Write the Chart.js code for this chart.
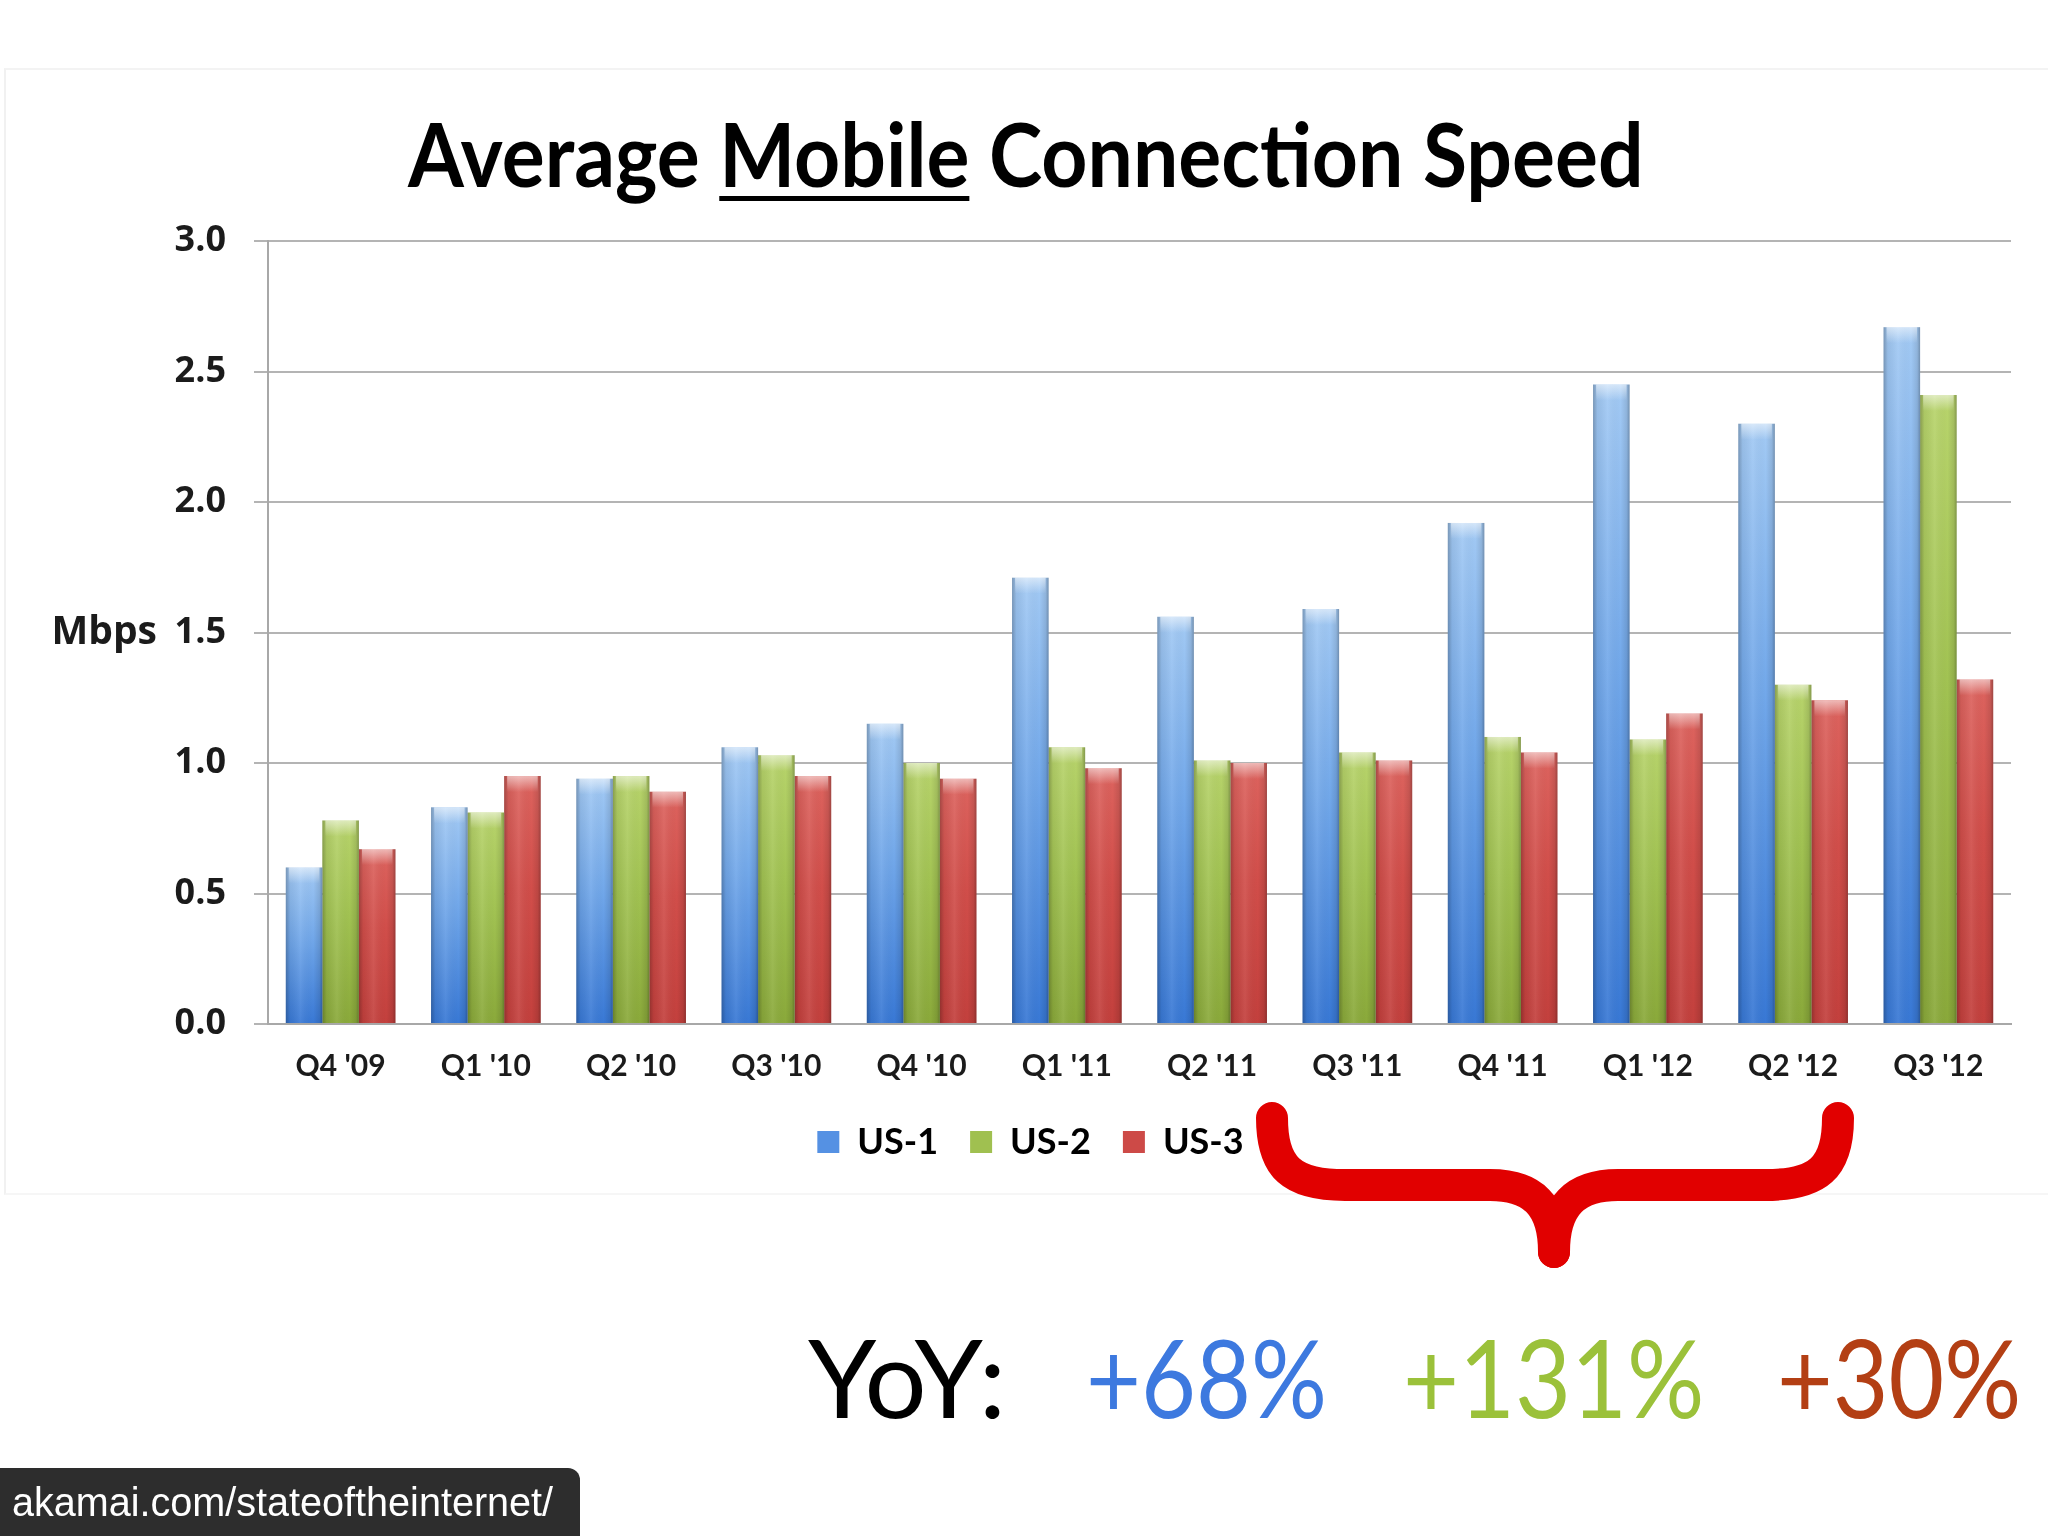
<!DOCTYPE html>
<html>
<head>
<meta charset="utf-8">
<script src="https://cdn.jsdelivr.net/npm/chart.js@4.4.1/dist/chart.umd.min.js"></script>
<style>
  html, body { margin: 0; padding: 0; background: #ffffff; }
  #stage { position: relative; width: 2048px; height: 1536px; overflow: hidden; background: #ffffff; }
  #panel { position: absolute; left: 4px; top: 68px; width: 2044px; height: 1127px; background: #ffffff;
           border-left: 2px solid #f1f1f1; border-top: 2px solid #f3f3f3; border-bottom: 2px solid #f6f6f6; box-sizing: border-box; }
  #chart { position: absolute; left: 0; top: 0; }
  .txt { position: absolute; white-space: nowrap; transform-origin: 0 0; line-height: 1; margin: 0; }
  #title { font-family: Lato, "Open Sans", sans-serif; font-weight: 700; font-size: 88px; color: #000; }
  #title u { text-decoration: underline; text-decoration-thickness: 5px; text-underline-offset: 9px; }
  .yoy { font-family: Lato, "Open Sans", sans-serif; font-weight: 400; font-size: 109px; }
  #footer { position: absolute; left: 0; top: 1468px; width: 580px; height: 68px; background: #2d2d2d; border-top-right-radius: 12px; }
  #footerText { font-family: "Liberation Sans", Arial, sans-serif; font-size: 40px; color: #ffffff; }
  #brace { position: absolute; left: 0; top: 0; }
</style>
</head>
<body>
<div id="stage">
  <div id="panel"></div>
  <canvas id="chart" width="2048" height="1536"></canvas>
  <svg id="brace" width="2048" height="1536" viewBox="0 0 2048 1536">
    <g fill="none" stroke="#e10000" stroke-width="32" stroke-linecap="round" stroke-linejoin="round">
      <path d="M 1272 1118 C 1272 1168, 1292 1185, 1345 1185 L 1490 1185 C 1532 1185, 1554 1205, 1554 1252"/>
      <path d="M 1838 1118 C 1838 1168, 1818 1185, 1765 1185 L 1618 1185 C 1576 1185, 1554 1205, 1554 1252"/>
    </g>
  </svg>
  <div id="title" class="txt">Average <u>Mobile</u> Connection Speed</div>
  <div id="yoyLabel" class="txt yoy" style="color:#000000">YoY:</div>
  <div id="yoy0" class="txt yoy" style="color:#3d79df"></div>
  <div id="yoy1" class="txt yoy" style="color:#9bc13a"></div>
  <div id="yoy2" class="txt yoy" style="color:#b33f14"></div>
  <div id="footer"></div>
  <div id="footerText" class="txt">akamai.com/stateoftheinternet/</div>
</div>
<script>
// ---------------- data ----------------
const categories = ["Q4 '09", "Q1 '10", "Q2 '10", "Q3 '10", "Q4 '10", "Q1 '11", "Q2 '11", "Q3 '11", "Q4 '11", "Q1 '12", "Q2 '12", "Q3 '12"];
const seriesNames = ["US-1", "US-2", "US-3"];
const us1 = [0.60, 0.83, 0.94, 1.06, 1.15, 1.71, 1.56, 1.59, 1.92, 2.45, 2.30, 2.67];
const us2 = [0.78, 0.81, 0.95, 1.03, 1.00, 1.06, 1.01, 1.04, 1.10, 1.09, 1.30, 2.41];
const us3 = [0.67, 0.95, 0.89, 0.95, 0.94, 0.98, 1.00, 1.01, 1.04, 1.19, 1.24, 1.32];
const yTicks = [0, 0.5, 1.0, 1.5, 2.0, 2.5, 3.0];
const yAxisTitle = "Mbps";
const yoyLabels = ["+68%", "+131%", "+30%"];

// ---------------- styles ----------------
const gradStops = [
  [[0, "#a3caf4"], [0.45, "#72a8ea"], [1, "#3878d5"]],
  [[0, "#b8d46c"], [0.45, "#a2c353"], [1, "#8aa93a"]],
  [[0, "#dd645f"], [0.45, "#d14e4a"], [1, "#c3403d"]]
];
const solidColors = ["#5591e3", "#a0c050", "#cd4a47"];

function barFill(i) {
  return (ctx) => {
    const chart = ctx.chart;
    if (ctx.type !== "data" || !chart.chartArea) return solidColors[i];
    const ys = chart.scales.y;
    const top = ys.getPixelForValue(ctx.parsed.y);
    const bot = ys.getPixelForValue(0);
    const g = chart.ctx.createLinearGradient(0, top, 0, bot);
    gradStops[i].forEach(([o, c]) => g.addColorStop(o, c));
    return g;
  };
}

// shading overlay for the 3D-ish look, drawn on the library's own bar elements
const shadePlugin = {
  id: "shade",
  afterDatasetsDraw(chart) {
    const ctx = chart.ctx;
    chart.data.datasets.forEach((ds, di) => {
      const meta = chart.getDatasetMeta(di);
      meta.data.forEach((bar) => {
        const { x, y, base, width } = bar.getProps(["x", "y", "base", "width"], true);
        const l = x - width / 2, h = base - y;
        ctx.save();
        const hg = ctx.createLinearGradient(l, 0, l + width, 0);
        hg.addColorStop(0, "rgba(0,0,0,0.25)");
        hg.addColorStop(0.12, "rgba(0,0,0,0.06)");
        hg.addColorStop(0.4, "rgba(255,255,255,0.08)");
        hg.addColorStop(0.75, "rgba(0,0,0,0.0)");
        hg.addColorStop(0.92, "rgba(0,0,0,0.1)");
        hg.addColorStop(1, "rgba(0,0,0,0.28)");
        ctx.fillStyle = hg;
        ctx.fillRect(l, y, width, h);
        const cg = ctx.createLinearGradient(0, y, 0, y + 16);
        cg.addColorStop(0, "rgba(255,255,255,0.55)");
        cg.addColorStop(0.6, "rgba(255,255,255,0.22)");
        cg.addColorStop(1, "rgba(255,255,255,0)");
        ctx.fillStyle = cg;
        ctx.fillRect(l + 3, y, width - 6, Math.min(16, h));
        ctx.restore();
      });
    });
  }
};

const mbpsPlugin = {
  id: "mbps",
  afterDraw(chart) {
    const ctx = chart.ctx, ys = chart.scales.y;
    ctx.save();
    ctx.font = 'bold 39px "Open Sans"';
    ctx.fillStyle = "#1b1b1b";
    ctx.textAlign = "right";
    ctx.textBaseline = "middle";
    ctx.fillText(yAxisTitle, 157, ys.getPixelForValue(1.5));
    ctx.restore();
  }
};

const datasets = [us1, us2, us3].map((vals, i) => ({
  label: seriesNames[i],
  data: vals,
  backgroundColor: barFill(i),
  borderWidth: 0,
  barPercentage: 1.0,
  categoryPercentage: 0.755
}));

new Chart(document.getElementById("chart"), {
  type: "bar",
  data: { labels: categories, datasets },
  plugins: [shadePlugin, mbpsPlugin],
  options: {
    responsive: false,
    animation: false,
    devicePixelRatio: 1,
    layout: { padding: { left: 50, right: 37, top: 241, bottom: 366 } },
    plugins: {
      title: { display: false },
      tooltip: { enabled: false },
      legend: {
        position: "bottom",
        labels: {
          font: { family: "Lato", weight: "bold", size: 36 },
          color: "#111111",
          boxWidth: 22,
          boxHeight: 22,
          padding: 32,
          generateLabels: () => seriesNames.map((n, i) => ({
            text: n, fillStyle: solidColors[i], strokeStyle: solidColors[i], lineWidth: 0, datasetIndex: i, hidden: false
          }))
        }
      }
    },
    scales: {
      x: {
        ticks: { font: { family: "Lato", weight: "bold", size: 30 }, color: "#1b1b1b", padding: 24, maxRotation: 0, autoSkip: false },
        grid: { display: false, drawTicks: false },
        border: { display: true, color: "#a8a8a8", width: 2 },
        afterFit: (s) => { s.height = 68; }
      },
      y: {
        min: 0, max: 3,
        afterBuildTicks: (s) => { s.ticks = yTicks.map((v) => ({ value: v })); },
        ticks: { callback: (v) => Number(v).toFixed(1), font: { family: "Open Sans", weight: "bold", size: 36 }, color: "#1b1b1b", padding: 28 },
        grid: { color: "#b4b4b4", lineWidth: 2, tickLength: 14, drawTicks: true },
        border: { display: true, color: "#a8a8a8", width: 2 },
        afterFit: (s) => { s.width = 218; }
      }
    }
  }
});

// ---------------- overlay text placement ----------------
yoyLabels.forEach((t, i) => { document.getElementById("yoy" + i).textContent = t; });

function place(id, inkLeft, inkRight, baseline) {
  const el = document.getElementById(id);
  const cs = getComputedStyle(el);
  const fs = parseFloat(cs.fontSize);
  const c = document.createElement("canvas").getContext("2d");
  c.font = cs.fontWeight + " " + cs.fontSize + " " + cs.fontFamily;
  const m = c.measureText(el.textContent);
  const A = m.fontBoundingBoxAscent, D = m.fontBoundingBoxDescent;
  const inkW = m.actualBoundingBoxRight + m.actualBoundingBoxLeft;
  const sx = (inkRight - inkLeft) / inkW;
  el.style.left = (inkLeft + m.actualBoundingBoxLeft * sx) + "px";
  el.style.top = (baseline - ((fs - (A + D)) / 2 + A)) + "px";
  el.style.transform = "scaleX(" + sx + ")";
}
function layoutTexts() {
  place("title", 407, 1639, 187);
  place("yoyLabel", 808, 1000, 1418);
  place("yoy0", 1090, 1323, 1418);
  place("yoy1", 1407, 1700, 1418);
  place("yoy2", 1781, 2017, 1418);
  place("footerText", 13, 554, 1516);
}
layoutTexts();
if (document.fonts && document.fonts.ready) document.fonts.ready.then(layoutTexts);
</script>
</body>
</html>
